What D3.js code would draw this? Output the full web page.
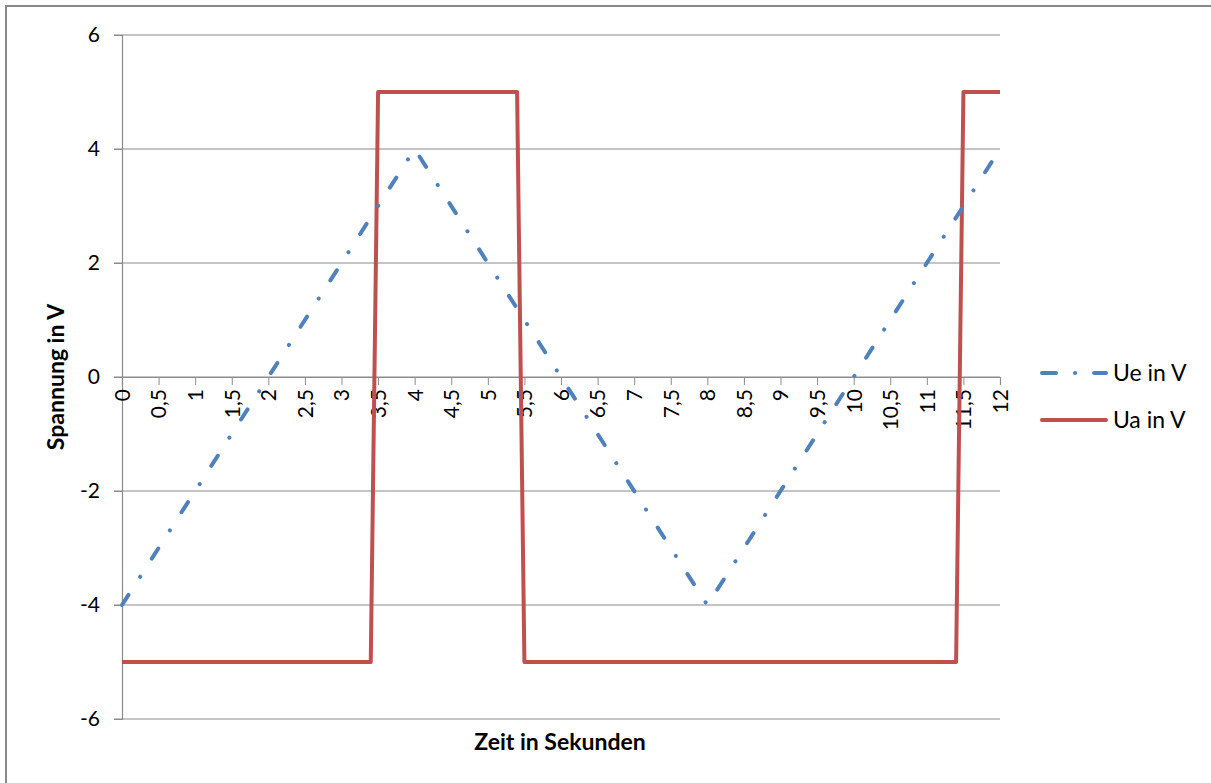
<!DOCTYPE html>
<html><head><meta charset="utf-8">
<script src="https://cdn.jsdelivr.net/npm/d3@7"></script>
<style>
body{margin:0;background:#fff;}
text{font-family:"Lato","Open Sans",sans-serif;fill:#000;}
</style></head>
<body>
<svg id="c" width="1211" height="783"></svg>
<script>
const xTicks = d3.range(0, 12.001, 0.5);
const yTicks = [-6, -4, -2, 0, 2, 4, 6];
const ueT = [0, 4, 8, 12];
const ueV = [-4, 4, -4, 4];
const uaT = [0, 3.4, 3.5, 5.4, 5.5, 11.4, 11.5, 12];
const uaV = [-5, -5, 5, 5, -5, -5, 5, 5];
const seriesNames = ["Ue in V", "Ua in V"];
const colors = ["#4F81BD", "#C0504D"];

const svg = d3.select("#c");
svg.append("rect").attr("x",6).attr("y",6).attr("width",1215).attr("height",790)
  .attr("fill","#fff").attr("stroke","#8a8a8a").attr("stroke-width",2);

const x = d3.scaleLinear().domain([0,12]).range([122,1000]);
const y = d3.scaleLinear().domain([-6,6]).range([719,35]);
const fmt = d => String(d).replace(".", ",");

// gridlines
svg.append("g").selectAll("line").data(yTicks).join("line")
  .attr("x1",114).attr("x2",1000).attr("y1",d=>y(d)).attr("y2",d=>y(d))
  .attr("stroke","#8c8c8c").attr("stroke-width",1.2);
// y axis
const ya = svg.append("g").attr("transform","translate(122,0)")
  .call(d3.axisLeft(y).tickValues(yTicks).tickSize(8).tickPadding(14).tickFormat(d=>d));
ya.select(".domain").attr("stroke","#8c8c8c").attr("stroke-width",1.2);
ya.selectAll(".tick line").attr("stroke","#8c8c8c");
ya.selectAll("text").attr("font-size",21).style("font-family","Lato,'Open Sans',sans-serif");

// x axis at y=0
const xa = svg.append("g").attr("transform",`translate(0,${y(0)})`)
  .call(d3.axisBottom(x).tickValues(xTicks).tickSize(8).tickFormat(fmt));
xa.select(".domain").attr("stroke","#8c8c8c").attr("stroke-width",1.2);
xa.selectAll(".tick line").attr("stroke","#8c8c8c");
xa.selectAll("text").attr("font-size",21).style("font-family","Lato,'Open Sans',sans-serif")
  .attr("text-anchor","end").attr("dy","0.35em")
  .attr("transform","translate(0,4) rotate(-90)").attr("x",-8).attr("y",0);

const line = d3.line().x(d=>x(d[0])).y(d=>y(d[1]));
// Ua
svg.append("path").datum(uaT.map((t,i)=>[t,uaV[i]])).attr("d",line)
  .attr("fill","none").attr("stroke",colors[1]).attr("stroke-width",4).attr("stroke-linejoin","round");
// Ue
svg.append("path").datum(ueT.map((t,i)=>[t,ueV[i]])).attr("d",line)
  .attr("fill","none").attr("stroke",colors[0]).attr("stroke-width",4)
  .attr("stroke-linecap","round").attr("stroke-dasharray","12,21.5,0.1,21.5");

// axis titles
svg.append("text").attr("x",560).attr("y",750).attr("text-anchor","middle")
  .attr("font-size",23).attr("font-weight","bold").text("Zeit in Sekunden");
svg.append("text").attr("transform",`translate(64,${y(0)}) rotate(-90)`).attr("text-anchor","middle")
  .attr("font-size",23).attr("font-weight","bold").text("Spannung in V");

// legend
const lg = svg.append("g");
[0,1].forEach(i=>{
  const yy = 373 + i*47;
  lg.append("line").attr("x1",1042).attr("x2",1106).attr("y1",yy).attr("y2",yy)
    .attr("stroke",colors[i]).attr("stroke-width",4).attr("stroke-linecap","round")
    .attr("stroke-dasharray", i===0 ? "14,19,0.1,19" : null);
  lg.append("text").attr("x",1113).attr("y",yy).attr("dy","0.35em")
    .attr("font-size",23).text(seriesNames[i]);
});
</script>
</body></html>
